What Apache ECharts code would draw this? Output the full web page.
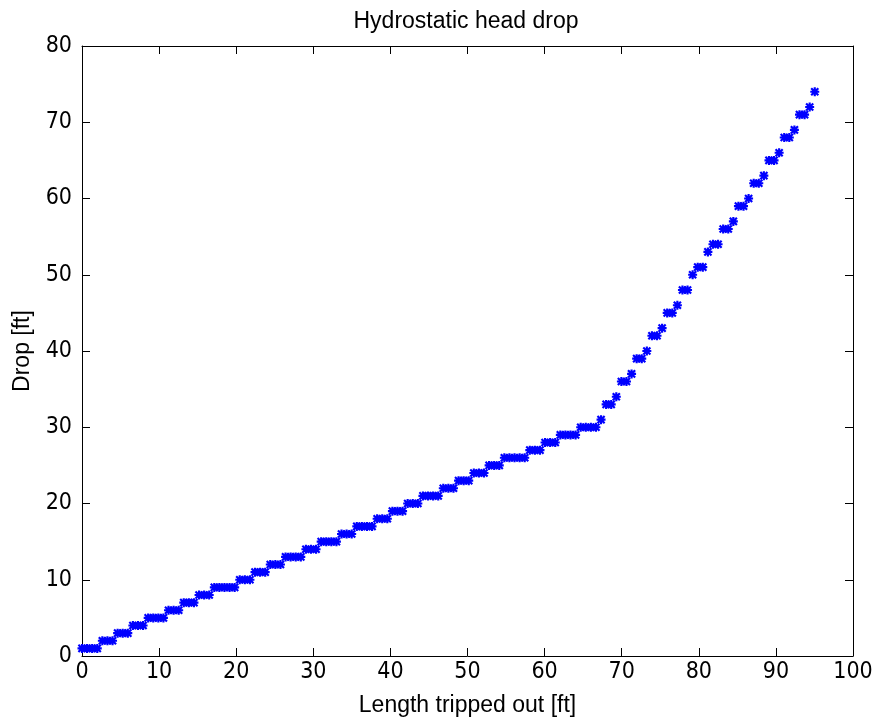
<!DOCTYPE html>
<html>
<head>
<meta charset="utf-8">
<script src="https://cdn.jsdelivr.net/npm/echarts@6/dist/echarts.min.js"></script>
<style>
html,body{margin:0;padding:0;background:#fff;}
#chart{width:878px;height:722px;}
</style>
</head>
<body>
<div id="chart"></div>
<script>
// Length tripped out [ft]
const lengthOut = [
  0, 0.66, 1.32, 1.98, 2.64, 3.3, 3.96, 4.62, 5.28, 5.94, 6.6, 7.26,
  7.92, 8.58, 9.24, 9.9, 10.56, 11.22, 11.88, 12.54, 13.2, 13.86, 14.52, 15.18,
  15.84, 16.5, 17.16, 17.82, 18.48, 19.14, 19.8, 20.46, 21.12, 21.78, 22.44, 23.1,
  23.76, 24.42, 25.08, 25.74, 26.4, 27.06, 27.72, 28.38, 29.04, 29.7, 30.36, 31.02,
  31.68, 32.34, 33, 33.66, 34.32, 34.98, 35.64, 36.3, 36.96, 37.62, 38.28, 38.94,
  39.6, 40.26, 40.92, 41.58, 42.24, 42.9, 43.56, 44.22, 44.88, 45.54, 46.2, 46.86,
  47.52, 48.18, 48.84, 49.5, 50.16, 50.82, 51.48, 52.14, 52.8, 53.46, 54.12, 54.78,
  55.44, 56.1, 56.76, 57.42, 58.08, 58.74, 59.4, 60.06, 60.72, 61.38, 62.04, 62.7,
  63.36, 64.02, 64.68, 65.34, 66, 66.66, 67.32, 67.98, 68.64, 69.3, 69.96, 70.62,
  71.28, 71.94, 72.6, 73.26, 73.92, 74.58, 75.24, 75.9, 76.56, 77.22, 77.88, 78.54,
  79.2, 79.86, 80.52, 81.18, 81.84, 82.5, 83.16, 83.82, 84.48, 85.14, 85.8, 86.46,
  87.12, 87.78, 88.44, 89.1, 89.76, 90.42, 91.08, 91.74, 92.4, 93.06, 93.72, 94.38,
  95.04
];
// Drop [ft]
const drop = [
  1, 1, 1, 1, 2, 2, 2, 3, 3, 3, 4, 4,
  4, 5, 5, 5, 5, 6, 6, 6, 7, 7, 7, 8,
  8, 8, 9, 9, 9, 9, 9, 10, 10, 10, 11, 11,
  11, 12, 12, 12, 13, 13, 13, 13, 14, 14, 14, 15,
  15, 15, 15, 16, 16, 16, 17, 17, 17, 17, 18, 18,
  18, 19, 19, 19, 20, 20, 20, 21, 21, 21, 21, 22,
  22, 22, 23, 23, 23, 24, 24, 24, 25, 25, 25, 26,
  26, 26, 26, 26, 27, 27, 27, 28, 28, 28, 29, 29,
  29, 29, 30, 30, 30, 30, 31, 33, 33, 34, 36, 36,
  37, 39, 39, 40, 42, 42, 43, 45, 45, 46, 48, 48,
  50, 51, 51, 53, 54, 54, 56, 56, 57, 59, 59, 60,
  62, 62, 63, 65, 65, 66, 68, 68, 69, 71, 71, 72,
  74
];
const xTicks = [0, 100, 10];
const yTicks = [0, 80, 10];

const titleText = 'Hydrostatic head drop';
const xName = 'Length tripped out [ft]';
const yName = 'Drop [ft]';

const points = lengthOut.map((x, i) => [x, drop[i]]);

const asterisk = 'path://M3.8,0L6.2,0L6.2,10L3.8,10Z M0,3.8L10,3.8L10,6.2L0,6.2Z M1.9,0.2L9.8,8.1L8.1,9.8L0.2,1.9Z M8.1,0.2L9.8,1.9L1.9,9.8L0.2,8.1Z';

const FONT = 'Liberation Sans, Arial, sans-serif';
const TICKFONT = '"Liberation Sans Narrow", "DejaVu Sans Condensed", "Liberation Sans", Arial, sans-serif';
const axisCommon = {
  type: 'value',
  axisLine: { show: true, onZero: false, lineStyle: { color: '#000', width: 1 } },
  axisTick: { show: true, inside: true, length: 8, lineStyle: { color: '#000', width: 1 } },
  splitLine: { show: false },
};

const chart = echarts.init(document.getElementById('chart'), null, { renderer: 'canvas' });
chart.setOption({
  animation: false,
  backgroundColor: '#fff',
  title: {
    text: titleText,
    left: 461, top: 5, textAlign: 'center',
    textStyle: { fontFamily: FONT, fontSize: 23, fontWeight: 'normal', color: '#000' }
  },
  grid: { left: 82, right: 25, top: 46, bottom: 66, containLabel: false },
  xAxis: [
    Object.assign({}, axisCommon, {
      min: xTicks[0], max: xTicks[1], interval: xTicks[2], position: 'bottom',
      name: xName, nameLocation: 'middle', nameGap: 38,
      nameTextStyle: { fontFamily: FONT, fontSize: 23, color: '#000' },
      axisLabel: { fontFamily: TICKFONT, fontSize: 23, color: '#000', margin: 5 }
    }),
    Object.assign({}, axisCommon, {
      min: xTicks[0], max: xTicks[1], interval: xTicks[2], position: 'top',
      axisLabel: { show: false }
    })
  ],
  yAxis: [
    Object.assign({}, axisCommon, {
      min: yTicks[0], max: yTicks[1], interval: yTicks[2], position: 'left',
      name: yName, nameLocation: 'middle', nameGap: 48,
      nameTextStyle: { fontFamily: FONT, fontSize: 23, color: '#000' },
      axisLabel: { fontFamily: TICKFONT, fontSize: 23, color: '#000', margin: 10 }
    }),
    Object.assign({}, axisCommon, {
      min: yTicks[0], max: yTicks[1], interval: yTicks[2], position: 'right',
      axisLabel: { show: false }
    })
  ],
  series: [{
    type: 'scatter',
    xAxisIndex: 0, yAxisIndex: 0,
    data: points,
    symbol: asterisk,
    symbolSize: 9,
    itemStyle: { color: '#0000ff', opacity: 1 },
    clip: false
  }]
});
</script>
</body>
</html>
